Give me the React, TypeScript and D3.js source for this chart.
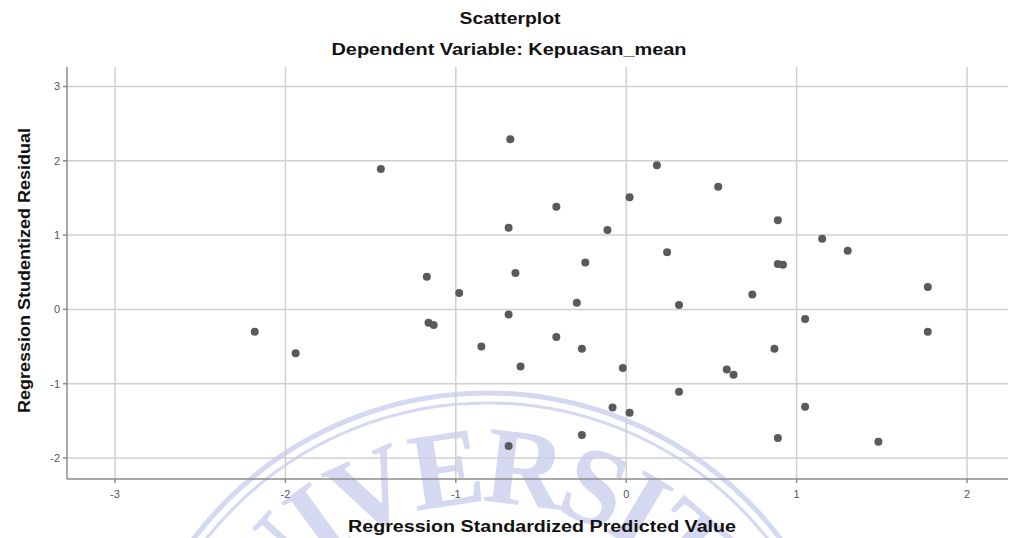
import React from "react";
import * as d3 from "d3";

// Regression Standardized Predicted Value (x) vs Regression Studentized Residual (y)
const predicted = [
  -2.18, -1.94, -1.44, -1.17, -1.16, -1.13, -0.98, -0.85, -0.69, -0.69, -0.68,
  -0.65, -0.69, -0.62, -0.41, -0.41, -0.29, -0.26, -0.24, -0.26, -0.11, -0.08,
  -0.02, 0.02, 0.02, 0.18, 0.24, 0.31, 0.31, 0.54, 0.59, 0.63, 0.74, 0.89,
  0.89, 0.92, 0.87, 0.89, 1.05, 1.05, 1.15, 1.3, 1.48, 1.77, 1.77,
];
const residual = [
  -0.3, -0.59, 1.89, 0.44, -0.18, -0.21, 0.22, -0.5, -0.07, 1.1, 2.29, 0.49,
  -1.84, -0.77, 1.38, -0.37, 0.09, -0.53, 0.63, -1.69, 1.07, -1.32, -0.79,
  1.51, -1.39, 1.94, 0.77, 0.06, -1.11, 1.65, -0.81, -0.88, 0.2, 1.2, 0.61,
  0.6, -0.53, -1.73, -0.13, -1.31, 0.95, 0.79, -1.78, 0.3, -0.3,
];

const xTicks = [-3, -2, -1, 0, 1, 2];
const yTicks = [-2, -1, 0, 1, 2, 3];

const title = "Scatterplot";
const subtitle = "Dependent Variable: Kepuasan_mean";
const xLabel = "Regression Standardized Predicted Value";
const yLabel = "Regression Studentized Residual";
const watermark = "UNIVERSITAS";

const W = 1011;
const H = 538;
const left = 67;
const right = 1008;
const top = 67;
const bottom = 479;

export default function App() {
  const x = d3.scaleLinear().domain([-3, 2]).range([115, 967]);
  const y = d3.scaleLinear().domain([-2, 3]).range([458, 86.5]);

  const points = predicted.map((p, i) => ({ px: p, py: residual[i] }));

  // watermark seal (faint, partly off the bottom edge)
  const cx = 487;
  const cy = 761;
  const rt = 258;
  const arc = `M${cx - rt},${cy} A${rt},${rt} 0 0 1 ${cx + rt},${cy}`;
  const wm = "#d4d8f1";

  const sans = "'Liberation Sans', Arial, sans-serif";

  return (
    <svg
      width={W}
      height={H}
      viewBox={`0 0 ${W} ${H}`}
      style={{ position: "absolute", left: 0, top: 0, background: "#fff" }}
    >
      <defs>
        <path id="wm-arc" d={arc} />
      </defs>

      <g fill="none" stroke={wm}>
        <circle cx={cx} cy={cy} r={368} strokeWidth={5} />
        <circle cx={cx} cy={cy} r={358} strokeWidth={3} />
      </g>
      <text
        fill={wm}
        fontFamily="'Liberation Serif', 'Times New Roman', serif"
        fontWeight="bold"
        fontSize={110}
        letterSpacing={-7}
        textAnchor="middle"
      >
        <textPath href="#wm-arc" startOffset="51%">
          {watermark}
        </textPath>
      </text>

      {/* grid */}
      <g stroke="#cfcfcf" strokeWidth={1.5}>
        {xTicks.map((t) => (
          <line key={"gx" + t} x1={x(t)} x2={x(t)} y1={top} y2={bottom} />
        ))}
        {yTicks.map((t) => (
          <line key={"gy" + t} x1={left} x2={right} y1={y(t)} y2={y(t)} />
        ))}
      </g>

      {/* axes */}
      <g stroke="#8c8c8c" strokeWidth={1.5}>
        <line x1={left} x2={left} y1={top} y2={bottom} />
        <line x1={left} x2={right} y1={bottom} y2={bottom} />
        {yTicks.map((t) => (
          <line key={"ty" + t} x1={left - 4} x2={left} y1={y(t)} y2={y(t)} />
        ))}
        {xTicks.map((t) => (
          <line key={"tx" + t} x1={x(t)} x2={x(t)} y1={bottom} y2={bottom + 4} />
        ))}
      </g>

      {/* tick labels */}
      <g fill="#555" fontFamily={sans} fontSize={11}>
        {yTicks.map((t) => (
          <text key={"ly" + t} x={60} y={y(t)} dy="0.35em" textAnchor="end">
            {t}
          </text>
        ))}
        {xTicks.map((t) => (
          <text key={"lx" + t} x={x(t)} y={498} textAnchor="middle">
            {t}
          </text>
        ))}
      </g>

      {/* points */}
      <g fill="#5a5a5a">
        {points.map((d, i) => (
          <circle key={i} cx={x(d.px)} cy={y(d.py)} r={4} />
        ))}
      </g>

      {/* titles */}
      <g fill="#111" fontFamily={sans} fontWeight="bold" fontSize={16}>
        <text x={510} y={24} textAnchor="middle" textLength={101} lengthAdjust="spacingAndGlyphs">
          {title}
        </text>
        <text x={509} y={55} textAnchor="middle" textLength={355} lengthAdjust="spacingAndGlyphs">
          {subtitle}
        </text>
        <text x={542} y={532} textAnchor="middle" textLength={388} lengthAdjust="spacingAndGlyphs">
          {xLabel}
        </text>
        <text
          transform={`translate(30,270.5) rotate(-90)`}
          textAnchor="middle"
          textLength={285}
          lengthAdjust="spacingAndGlyphs"
        >
          {yLabel}
        </text>
      </g>
    </svg>
  );
}
